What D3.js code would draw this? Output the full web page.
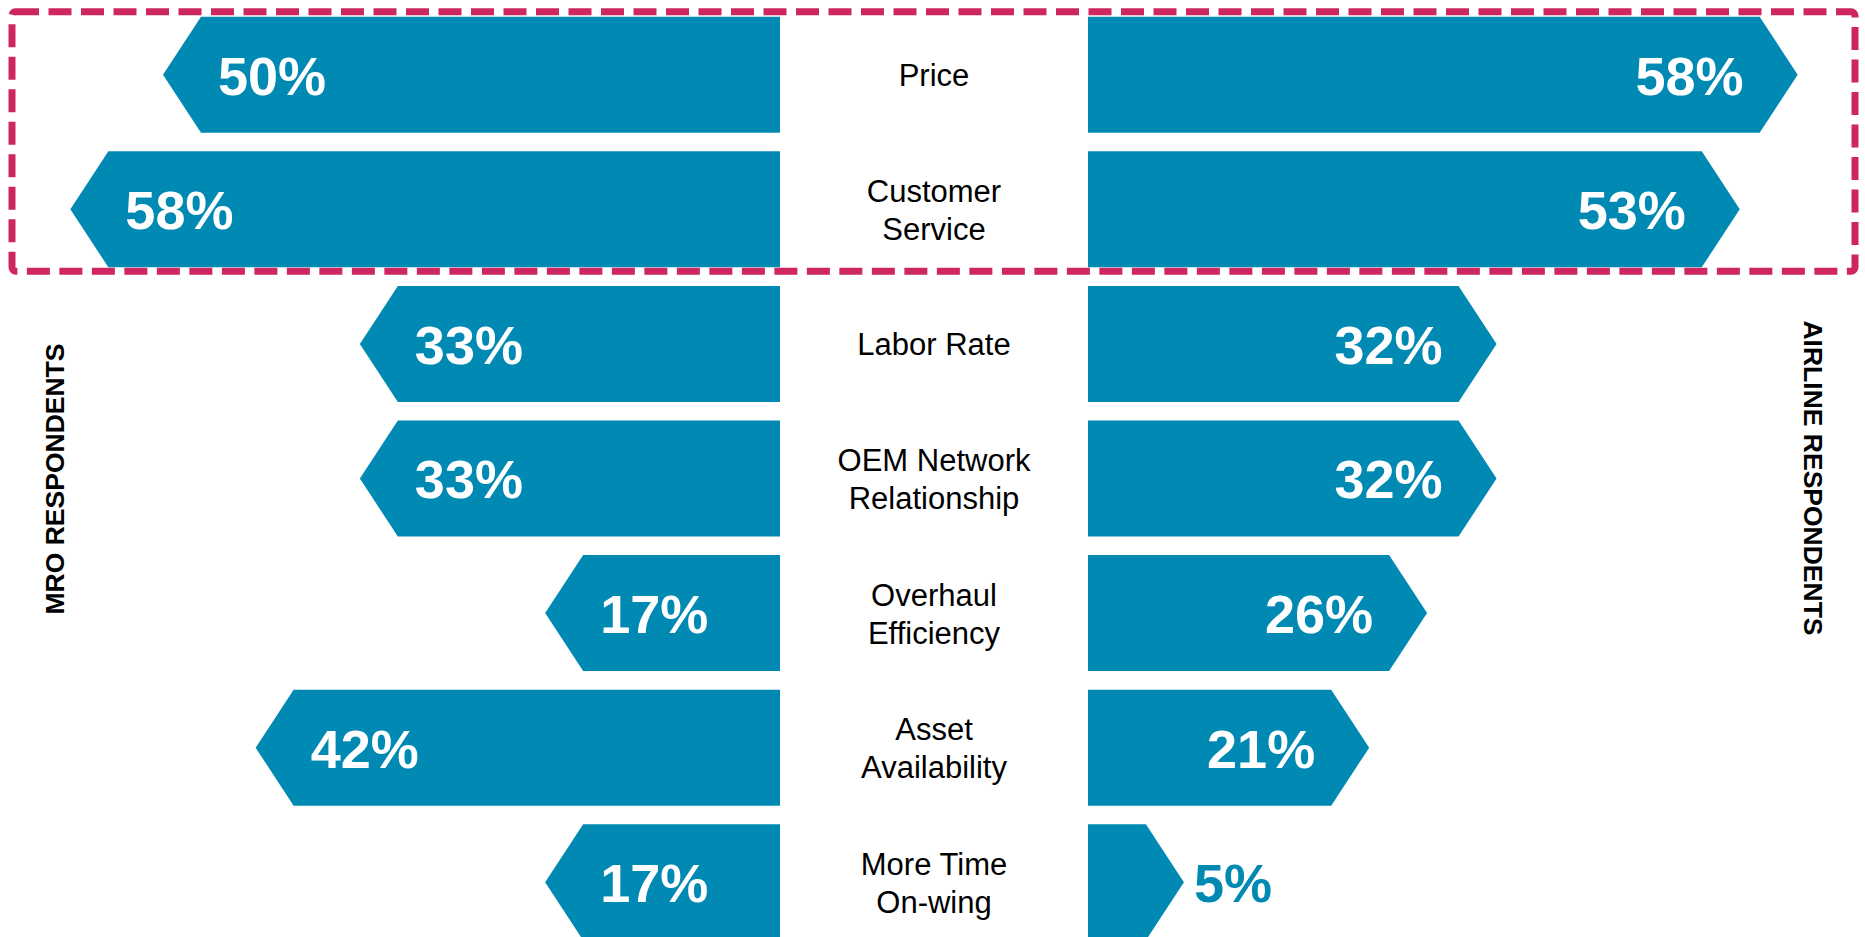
<!DOCTYPE html>
<html>
<head>
<meta charset="utf-8">
<script src="https://cdn.jsdelivr.net/npm/d3@7/dist/d3.min.js"></script>
<style>
  html, body { margin: 0; padding: 0; background: #ffffff; }
  svg { display: block; }
  text { font-family: "Liberation Sans", Arial, Helvetica, sans-serif; }
</style>
</head>
<body>
<svg id="chart" width="1865" height="937"></svg>
<script>
// Purchase drivers, share of respondents citing each factor
const categories = [
  "Price",
  "Customer\nService",
  "Labor Rate",
  "OEM Network\nRelationship",
  "Overhaul\nEfficiency",
  "Asset\nAvailability",
  "More Time\nOn-wing"
];
const mroValues     = [50, 58, 33, 33, 17, 42, 17];
const airlineValues = [58, 53, 32, 32, 26, 21, 5];
const sideTitles    = ["MRO RESPONDENTS", "AIRLINE RESPONDENTS"];
const highlighted   = ["Price", "Customer\nService"];

const W = 1865, H = 937;
const BAR = "#0089b3";
const HIGHLIGHT = "#cd2660";

const svg = d3.select("#chart");

// Layout: left bars grow leftward from leftEdge, right bars grow rightward from rightEdge
const leftEdge = 780, rightEdge = 1088, centerX = (leftEdge + rightEdge) / 2;
const arrow = 38;

const y = d3.scaleBand()
  .domain(categories)
  .range([16.7, 940.3])
  .paddingInner(0.138)
  .paddingOuter(0);

const len = d3.scaleLinear().domain([0, 100]).range([0, 1158]);

const rows = categories.map((c, i) => ({ cat: c, mro: mroValues[i], air: airlineValues[i] }));

// Left (MRO) arrows pointing left
function leftPath(d) {
  const t = y(d.cat), b = t + y.bandwidth(), m = t + y.bandwidth() / 2;
  const s = leftEdge - len(d.mro);
  return `M${leftEdge},${t}L${s},${t}L${s - arrow},${m}L${s},${b}L${leftEdge},${b}Z`;
}
// Right (airline) arrows pointing right
function rightPath(d) {
  const t = y(d.cat), b = t + y.bandwidth(), m = t + y.bandwidth() / 2;
  const e = rightEdge + len(d.air);
  return `M${rightEdge},${t}L${e},${t}L${e + arrow},${m}L${e},${b}L${rightEdge},${b}Z`;
}

svg.append("g").selectAll("path").data(rows).join("path")
  .attr("d", leftPath).attr("fill", BAR);
svg.append("g").selectAll("path").data(rows).join("path")
  .attr("d", rightPath).attr("fill", BAR);

const valueFont = 54;
const mid = d => y(d.cat) + y.bandwidth() / 2;
const base = d => mid(d) + 0.37 * valueFont;

// MRO value labels, inside near the arrow tip
svg.append("g").selectAll("text").data(rows).join("text")
  .attr("x", d => leftEdge - len(d.mro) - arrow + 55)
  .attr("y", base)
  .attr("text-anchor", "start")
  .attr("font-size", valueFont)
  .attr("font-weight", "bold")
  .attr("fill", "#ffffff")
  .text(d => d.mro + "%");

// Airline value labels; short bars get the label outside the tip
svg.append("g").selectAll("text").data(rows).join("text")
  .attr("x", d => {
    const tip = rightEdge + len(d.air) + arrow;
    return d.air < 10 ? tip + 10 : tip - 54;
  })
  .attr("y", base)
  .attr("text-anchor", d => d.air < 10 ? "start" : "end")
  .attr("font-size", valueFont)
  .attr("font-weight", "bold")
  .attr("fill", d => d.air < 10 ? BAR : "#ffffff")
  .text(d => d.air + "%");

// Category labels in the centre column
const catFont = 31, lineH = 38;
const catG = svg.append("g").selectAll("text").data(rows).join("text")
  .attr("text-anchor", "middle")
  .attr("font-size", catFont)
  .attr("fill", "#000000");
catG.each(function(d) {
  const lines = d.cat.split("\n");
  const n = lines.length;
  d3.select(this).selectAll("tspan").data(lines).join("tspan")
    .attr("x", centerX)
    .attr("y", (l, i) => mid(d) + 11.5 + (i - (n - 1) / 2) * lineH)
    .text(l => l);
});

// Side titles
svg.append("text")
  .attr("transform", "translate(64,479) rotate(-90)")
  .attr("text-anchor", "middle")
  .attr("font-size", 26.5)
  .attr("font-weight", "bold")
  .attr("fill", "#000")
  .text(sideTitles[0]);
svg.append("text")
  .attr("transform", "translate(1804,478) rotate(90)")
  .attr("text-anchor", "middle")
  .attr("font-size", 26.5)
  .attr("font-weight", "bold")
  .attr("fill", "#000")
  .text(sideTitles[1]);

// Dashed frame around the top-ranked factors
const hTop = y(highlighted[0]) - 5;
const hBot = y(highlighted[highlighted.length - 1]) + y.bandwidth() + 4;
svg.append("rect")
  .attr("x", 12).attr("y", hTop)
  .attr("width", 1855 - 12).attr("height", hBot - hTop)
  .attr("rx", 4)
  .attr("fill", "none")
  .attr("stroke", HIGHLIGHT)
  .attr("stroke-width", 7)
  .attr("stroke-dasharray", "23 9.5");
</script>
</body>
</html>
